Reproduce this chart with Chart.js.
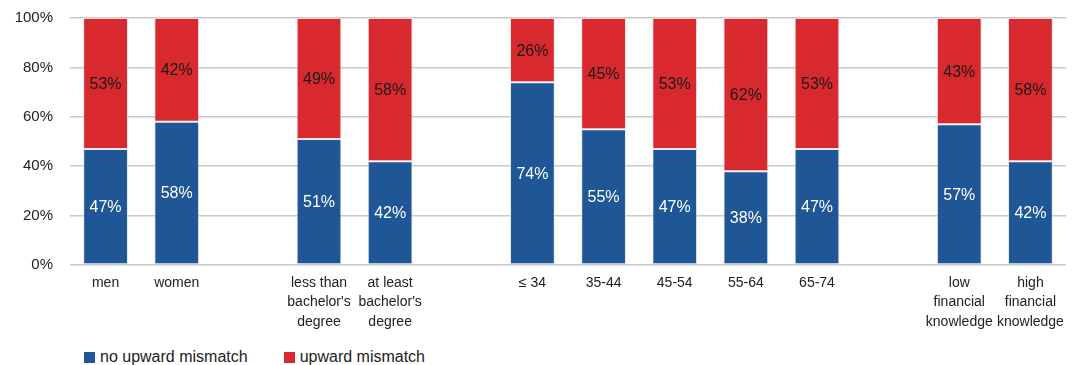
<!DOCTYPE html>
<html>
<head>
<meta charset="utf-8">
<script src="https://cdn.jsdelivr.net/npm/chart.js@4/dist/chart.umd.min.js"></script>
<style>
  body { margin: 0; background: #fff; }
  #wrap { position: relative; width: 1078px; height: 365px; overflow: hidden; }
  #grafica { position: absolute; left: 0; top: -8px; }
  #leyenda { position: absolute; left: 84px; top: 348px; font: 16px "Liberation Sans", Arial, sans-serif; color: #222; display: flex; }
  #leyenda span.item { display: flex; align-items: center; margin-right: 36px; }
  #leyenda span.box { display: inline-block; width: 11px; height: 11px; margin-right: 5px; }
</style>
</head>
<body>
<div id="wrap">
  <canvas id="grafica" width="1078" height="350"></canvas>
  <div id="leyenda"></div>
</div>
<script>
// categorias, '' = espacio entre grupos
const categorias = [
  'men', 'women', '',
  ['less than', "bachelor's", 'degree'], ['at least', "bachelor's", 'degree'], '',
  '≤ 34', '35-44', '45-54', '55-64', '65-74', '',
  ['low', 'financial', 'knowledge'], ['high', 'financial', 'knowledge']
];
const noMismatch = [47, 58, null, 51, 42, null, 74, 55, 47, 38, 47, null, 57, 42];
const mismatch   = [53, 42, null, 49, 58, null, 26, 45, 53, 62, 53, null, 43, 58];
const yTicks = [0, 20, 40, 60, 80, 100];

const azul = '#1f5796';
const rojo = '#d8292f';

const etiquetas = {
  id: 'etiquetas',
  afterDatasetsDraw(chart) {
    const ctx = chart.ctx;
    ctx.save();
    ctx.font = '16px "Liberation Sans", Arial, sans-serif';
    ctx.textAlign = 'center';
    ctx.textBaseline = 'middle';
    chart.data.datasets.forEach(function (ds, i) {
      const meta = chart.getDatasetMeta(i);
      meta.data.forEach(function (bar, j) {
        const v = ds.data[j];
        if (v == null) return;
        ctx.fillStyle = i == 0 ? '#ffffff' : '#1a1a1a';
        ctx.fillText(v + '%', bar.x, (bar.y + bar.base) / 2 + 1);
      });
    });
    ctx.restore();
  }
};

const ctx = document.getElementById('grafica');
const mychart = new Chart(ctx, {
  type: 'bar',
  data: {
    labels: categorias,
    datasets: [
      { label: 'no upward mismatch', data: noMismatch, backgroundColor: azul, borderColor: 'rgba(220,225,235,0.7)', borderWidth: 1, borderSkipped: false },
      { label: 'upward mismatch', data: mismatch, backgroundColor: rojo, borderColor: 'rgba(240,215,215,0.7)', borderWidth: 1, borderSkipped: false }
    ]
  },
  options: {
    responsive: false,
    animation: false,
    categoryPercentage: 1,
    barPercentage: 0.63,
    layout: { padding: { left: 10, right: 12, top: 10, bottom: 0 } },
    plugins: { legend: { display: false }, tooltip: { enabled: false } },
    scales: {
      x: {
        stacked: true,
        grid: { display: false },
        border: { display: false },
        ticks: { color: '#222', font: { family: '"Liberation Sans", Arial, sans-serif', size: 14, lineHeight: 1.4 }, padding: 0, maxRotation: 0, autoSkip: false },
        afterFit(s) { s.height = 77; }
      },
      y: {
        stacked: true,
        min: 0,
        max: 100,
        afterBuildTicks(s) { s.ticks = yTicks.map(function (v) { return { value: v }; }); },
        grid: { color: '#c9c9c9', lineWidth: 1.5, drawTicks: false },
        border: { display: false },
        ticks: { color: '#222', font: { family: '"Liberation Sans", Arial, sans-serif', size: 15 }, padding: 17, callback: function (v) { return v + '%'; } },
        afterFit(s) { s.width = 60; }
      }
    }
  },
  plugins: [etiquetas]
});

// leyenda
const ley = document.getElementById('leyenda');
mychart.data.datasets.forEach(function (ds) {
  const it = document.createElement('span');
  it.className = 'item';
  it.innerHTML = '<span class="box" style="background:' + ds.backgroundColor + '"></span>' + ds.label;
  ley.appendChild(it);
});
</script>
</body>
</html>
